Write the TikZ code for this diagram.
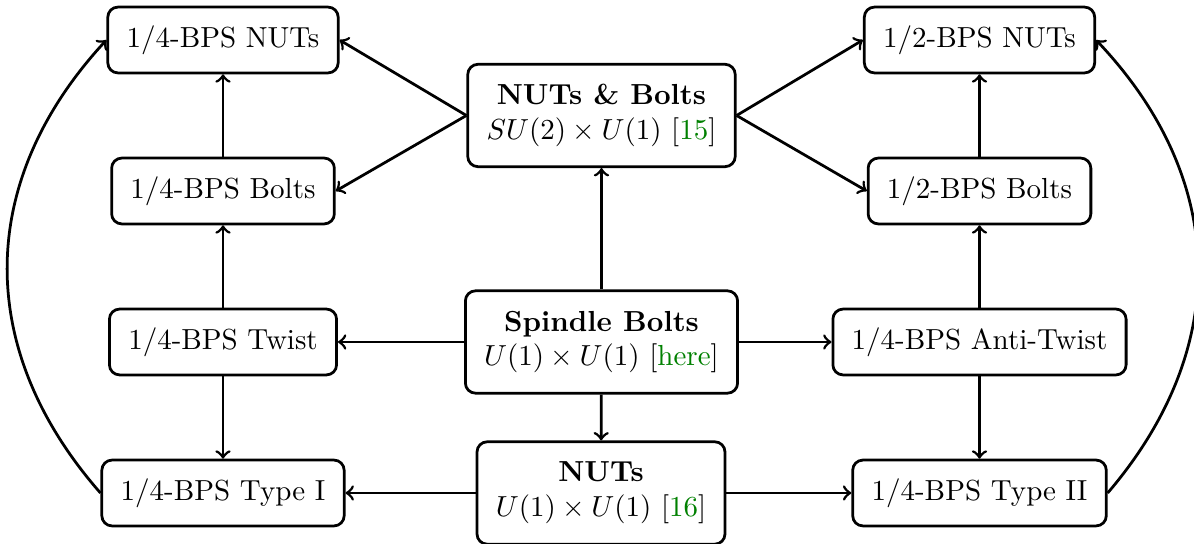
\documentclass[tikz,border=0pt]{standalone}
\usetikzlibrary{arrows}
\definecolor{refgreen}{RGB}{0,128,0}
\newcommand{\refl}[1]{[\textcolor{refgreen}{#1}]}
\begin{document}
\begin{tikzpicture}[
  x=0.3448pt, y=-0.3448pt,
  box/.style={draw, line width=0.95pt, rounded corners=3.5pt, align=center,
    inner xsep=6.5pt, inner ysep=2pt, minimum height=22.7pt},
  bigbox/.style={box, minimum height=35.3pt},
  link/.style={line width=0.95pt, ->},
]
\useasboundingbox (0,0) rectangle (1194,544);

% left column: quarter-BPS branch
\node[box] (qnut)   at (223,40)  {1/4-BPS NUTs};
\node[box] (qbolt)  at (223,191) {1/4-BPS Bolts};
\node[box] (qtwist) at (223,342) {1/4-BPS Twist};
\node[box] (qone)   at (223,493) {1/4-BPS Type I};

% central column
\node[bigbox] (nb)  at (601.5,115.5) {\textbf{NUTs \& Bolts}\\ $SU(2)\times U(1)$ \refl{15}};
\node[bigbox] (sb)  at (601.5,342)   {\textbf{Spindle Bolts}\\ $U(1)\times U(1)$ \refl{here}};
\node[bigbox] (nu)  at (601,493)     {\textbf{NUTs}\\ $U(1)\times U(1)$ \refl{16}};

% right column
\node[box] (hnut)   at (979.5,40)  {1/2-BPS NUTs};
\node[box] (hbolt)  at (979.5,191) {1/2-BPS Bolts};
\node[box] (atwist) at (979.5,342) {1/4-BPS Anti-Twist};
\node[box] (qtwo)   at (979.5,493) {1/4-BPS Type II};

% limits of NUTs & Bolts
\draw[link] (nb.west) -- (qnut.east);
\draw[link] (nb.west) -- (qbolt.east);
\draw[link] (nb.east) -- (hnut.west);
\draw[link] (nb.east) -- (hbolt.west);

% spindle bolts
\draw[link] (sb) -- (nb);
\draw[link] (sb) -- (qtwist);
\draw[link] (sb) -- (atwist);
\draw[link] (sb) -- (nu);

% NUTs
\draw[link] (nu) -- (qone);
\draw[link] (nu) -- (qtwo);

% vertical chains
\draw[link] (qbolt) -- (qnut);
\draw[link] (qtwist) -- (qbolt);
\draw[link] (qtwist) -- (qone);
\draw[link] (hbolt) -- (hnut);
\draw[link] (atwist) -- (hbolt);
\draw[link] (atwist) -- (qtwo);

% outer arcs
\draw[link] (qone.west) to[bend left=42, looseness=1.08] (qnut.west);
\draw[link] (qtwo.east) to[bend right=42, looseness=1.08] (hnut.east);
\end{tikzpicture}
\end{document}
